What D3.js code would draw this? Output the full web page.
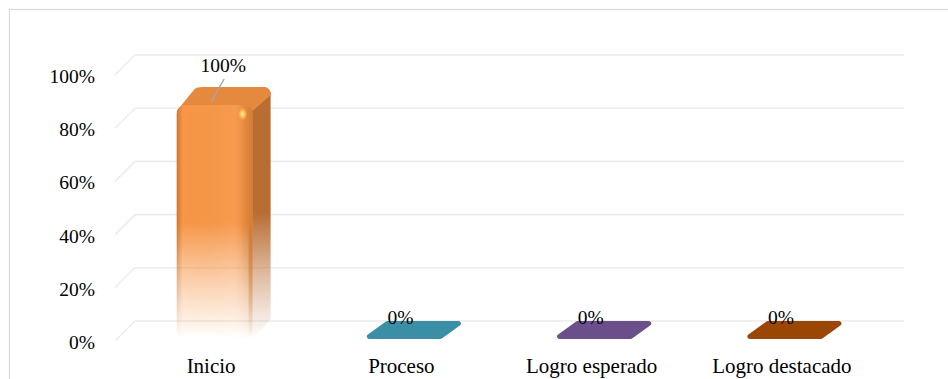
<!DOCTYPE html>
<meta charset="utf-8">
<head>
    <title>Niveles de logro</title>
    <script type="text/javascript" src="https://d3js.org/d3.v7.min.js"></script>
    <style>
        body { margin: 0; padding: 0; background: #fff; }
        text { font-family: "Liberation Serif", "Times New Roman", serif; fill: #000; }
    </style>
</head>
<body>
<script>
    // Data
    const categories = ["Inicio", "Proceso", "Logro esperado", "Logro destacado"];
    const values = [1, 0, 0, 0];
    const barColors = ["#F79646", "#3A8FA6", "#6A4F8B", "#9A4705"];
    const sideColors = ["#B86E33", "#2C6E80", "#52396D", "#783603"];
    const topColors = ["#E4893E", "#34809A", "#5E457E", "#8A4004"];
    const tickValues = [0, 0.2, 0.4, 0.6, 0.8, 1];

    const width = 948, height = 379;
    const depth = {dx: 20, dy: 20};      // floor / wall slant
    const barDepth = {dx: 18, dy: 18};

    const svg = d3.select("body").append("svg")
        .attr("width", width)
        .attr("height", height);

    const defs = svg.append("defs");

    // border
    svg.append("rect")
        .attr("x", 9.5).attr("y", 9.5)
        .attr("width", 980).attr("height", 420)
        .attr("fill", "none")
        .attr("stroke", "#d9d9d9")
        .attr("stroke-width", 1.2);

    // Scales
    const y = d3.scaleLinear().domain([0, 1]).range([321, 55]);       // back wall
    const yBar = d3.scaleLinear().domain([0, 1]).range([339, 105]);   // bar front face
    const x = d3.scaleBand().domain(categories).range([118, 879]);
    const barW = 76;
    const fmt = d3.format(".0%");

    // Gridlines (wall + floor slant)
    const grid = svg.append("g").attr("id", "grid");
    grid.selectAll("path")
        .data(tickValues)
        .enter()
        .append("path")
        .attr("d", t => `M${115},${y(t) + depth.dy} L${115 + depth.dx},${y(t)} L904,${y(t)}`)
        .attr("fill", "none")
        .attr("stroke", "#ececec")
        .attr("stroke-width", 1.6);

    // Tick labels
    svg.append("g").selectAll("text")
        .data(tickValues)
        .enter()
        .append("text")
        .attr("x", 95)
        .attr("y", t => y(t) + 28)
        .attr("text-anchor", "end")
        .style("font-size", "19.5px")
        .text(t => fmt(t));

    // Gradients for tall bars (fade towards the floor)
    function fadeGrad(id, color) {
        const g = defs.append("linearGradient")
            .attr("id", id)
            .attr("x1", 0).attr("y1", 0).attr("x2", 0).attr("y2", 1);
        g.append("stop").attr("offset", "0%").attr("stop-color", color).attr("stop-opacity", 1);
        g.append("stop").attr("offset", "50%").attr("stop-color", color).attr("stop-opacity", 1);
        g.append("stop").attr("offset", "75%").attr("stop-color", color).attr("stop-opacity", 0.45);
        g.append("stop").attr("offset", "100%").attr("stop-color", color).attr("stop-opacity", 0);
    }
    const shade = defs.append("linearGradient")
        .attr("id", "edgeShade")
        .attr("x1", 0).attr("y1", 0).attr("x2", 1).attr("y2", 0);
    shade.append("stop").attr("offset", "0%").attr("stop-color", "#7a3f10").attr("stop-opacity", 0.35);
    shade.append("stop").attr("offset", "8%").attr("stop-color", "#7a3f10").attr("stop-opacity", 0);
    shade.append("stop").attr("offset", "75%").attr("stop-color", "#ffffff").attr("stop-opacity", 0.05);
    shade.append("stop").attr("offset", "88%").attr("stop-color", "#7a3f10").attr("stop-opacity", 0.12);
    shade.append("stop").attr("offset", "100%").attr("stop-color", "#7a3f10").attr("stop-opacity", 0.3);
    const shadeFade = defs.append("linearGradient")
        .attr("id", "shadeMaskGrad")
        .attr("x1", 0).attr("y1", 0).attr("x2", 0).attr("y2", 1);
    shadeFade.append("stop").attr("offset", "0%").attr("stop-color", "#fff");
    shadeFade.append("stop").attr("offset", "55%").attr("stop-color", "#fff");
    shadeFade.append("stop").attr("offset", "100%").attr("stop-color", "#000");
    const mask = defs.append("mask").attr("id", "shadeMask")
        .attr("maskContentUnits", "objectBoundingBox");
    mask.append("rect").attr("width", 1).attr("height", 1).attr("fill", "url(#shadeMaskGrad)");

    const hl = defs.append("radialGradient").attr("id", "highlight");
    hl.append("stop").attr("offset", "0%").attr("stop-color", "#fff6a0").attr("stop-opacity", 1);
    hl.append("stop").attr("offset", "45%").attr("stop-color", "#ffd060").attr("stop-opacity", 0.8);
    hl.append("stop").attr("offset", "100%").attr("stop-color", "#f7a040").attr("stop-opacity", 0);

    const data = categories.map((c, i) => ({cat: c, value: values[i], i: i}));
    const bars = svg.append("g").attr("id", "bars");

    data.forEach(d => {
        const xc = x(d.cat) + x.bandwidth() / 2 + 1.5;
        const x0 = xc - barW / 2;
        const x1 = x0 + barW;
        const yb = yBar(0);
        const yt = yBar(d.value);
        const g = bars.append("g");

        if (d.value === 0) {
            // flat floor slab
            const r = 2.5;
            g.append("path")
                .attr("d", `M${x0 + r},${yb - r} L${x1 - r},${yb - r} L${x1 + barDepth.dx - r},${yb - barDepth.dy + r} L${x0 + barDepth.dx + r},${yb - barDepth.dy + r} Z`)
                .attr("fill", barColors[d.i])
                .attr("stroke", barColors[d.i])
                .attr("stroke-width", r * 2)
                .attr("stroke-linejoin", "round");
            return;
        }

        fadeGrad("front" + d.i, barColors[d.i]);
        fadeGrad("side" + d.i, sideColors[d.i]);

        // side face
        g.append("path")
            .attr("d", `M${x1 - 4},${yt} L${x1 + barDepth.dx - 8},${yt - barDepth.dy}
                        Q${x1 + barDepth.dx},${yt - barDepth.dy} ${x1 + barDepth.dx},${yt - barDepth.dy + 8}
                        L${x1 + barDepth.dx},${yb - barDepth.dy - 2} L${x1},${yb} L${x1 - 4},${yb} Z`)
            .attr("fill", `url(#side${d.i})`);

        // top face
        g.append("path")
            .attr("d", `M${x0},${yt + 6} L${x0 + barDepth.dx},${yt - barDepth.dy + 2}
                        Q${x0 + barDepth.dx + 2},${yt - barDepth.dy} ${x0 + barDepth.dx + 8},${yt - barDepth.dy}
                        L${x1 + barDepth.dx - 8},${yt - barDepth.dy}
                        Q${x1 + barDepth.dx},${yt - barDepth.dy} ${x1 + barDepth.dx},${yt - barDepth.dy + 8}
                        L${x1},${yt + 6} Z`)
            .attr("fill", topColors[d.i]);

        // front face
        g.append("rect")
            .attr("x", x0).attr("y", yt)
            .attr("width", barW).attr("height", yb - yt)
            .attr("rx", 9)
            .attr("fill", `url(#front${d.i})`);
        g.append("rect")
            .attr("x", x0).attr("y", yt)
            .attr("width", barW).attr("height", yb - yt)
            .attr("rx", 9)
            .attr("fill", "url(#edgeShade)")
            .attr("mask", "url(#shadeMask)");

        // glossy highlight
        g.append("ellipse")
            .attr("cx", x1 - 10).attr("cy", yt + 9)
            .attr("rx", 5).attr("ry", 7)
            .attr("fill", "url(#highlight)");
    });

    // Data labels
    const labels = svg.append("g").attr("id", "data-labels");
    data.forEach(d => {
        const xc = x(d.cat) + x.bandwidth() / 2;
        if (d.value > 0) {
            labels.append("line")
                .attr("x1", xc + 11).attr("y1", y(d.value) + 24)
                .attr("x2", xc - 2).attr("y2", yBar(d.value) - 3)
                .attr("stroke", "#a6a6a6")
                .attr("stroke-width", 1.5);
            labels.append("text")
                .attr("x", xc + 10)
                .attr("y", y(d.value) + 17)
                .attr("text-anchor", "middle")
                .style("font-size", "19.5px")
                .text(fmt(d.value));
        } else {
            labels.append("text")
                .attr("x", xc - 3)
                .attr("y", y(d.value) + 3)
                .attr("text-anchor", "middle")
                .style("font-size", "19.5px")
                .text(fmt(d.value));
        }
    });

    // Category labels
    svg.append("g").selectAll("text")
        .data(categories)
        .enter()
        .append("text")
        .attr("x", c => x(c) + x.bandwidth() / 2 - 2)
        .attr("y", 373)
        .attr("text-anchor", "middle")
        .style("font-size", "21px")
        .text(c => c);
</script>
</body>
</html>
